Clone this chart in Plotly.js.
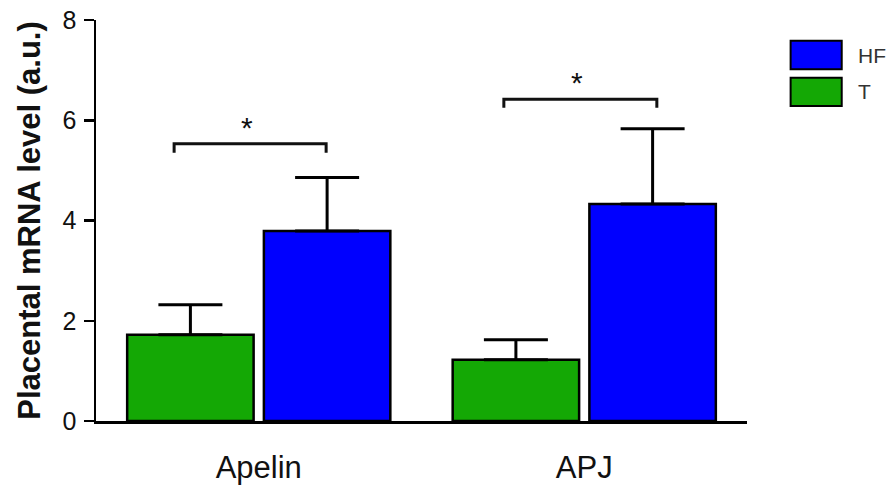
<!DOCTYPE html>
<html>
<head>
<meta charset="utf-8">
<script src="https://cdn.plot.ly/plotly-3.0.1.min.js"></script>
<style>html,body{margin:0;padding:0;background:#fff;}#chart{width:893px;height:485px;}</style>
</head>
<body>
<div id="chart"></div>
<script>
// ---- data ----
const categories = ["Apelin", "APJ"];
const seriesNames = ["T", "HF"];
const tValues = [1.72, 1.22];
const tErrors = [0.60, 0.40];
const hfValues = [3.79, 4.33];
const hfErrors = [1.07, 1.50];
const yTickVals = [0, 2, 4, 6, 8];
// significance brackets: [left, right] in category units, bracket height, drop
const bracketLeft = [-0.26, -0.247];
const bracketRight = [0.207, 0.223];
const bracketY = [5.53, 6.42];
const bracketDrop = [0.18, 0.17];
const sigLabels = ["*", "*"];

const green = "#14A805";
const blue = "#0000FF";

const traces = [
  {
    type: "bar", name: seriesNames[0], x: categories, y: tValues,
    marker: {color: green, line: {color: "#000", width: 2.5}},
    error_y: {type: "data", array: tErrors, arrayminus: tValues.map(() => 0), symmetric: false,
              color: "#000", thickness: 3, width: 32},
    showlegend: false
  },
  {
    type: "bar", name: seriesNames[1], x: categories, y: hfValues,
    marker: {color: blue, line: {color: "#000", width: 2.5}},
    error_y: {type: "data", array: hfErrors, arrayminus: hfValues.map(() => 0), symmetric: false,
              color: "#000", thickness: 3, width: 32},
    showlegend: false
  }
];

const shapes = [];
const annotations = [];
categories.forEach((c, i) => {
  const x0 = i + bracketLeft[i], x1 = i + bracketRight[i];
  shapes.push({
    type: "path", xref: "x", yref: "y",
    path: `M ${x0} ${bracketY[i] - bracketDrop[i]} L ${x0} ${bracketY[i]} L ${x1} ${bracketY[i]} L ${x1} ${bracketY[i] - bracketDrop[i]}`,
    line: {color: "#111", width: 3}
  });
  annotations.push({
    xref: "x", yref: "y", x: i + (bracketLeft[i] + bracketRight[i]) / 2 - 0.01, y: bracketY[i] - 0.04,
    yanchor: "bottom", text: sigLabels[i], showarrow: false,
    font: {family: "Liberation Sans, Arial, sans-serif", size: 30, color: "#111"}
  });
});

// legend drawn with shapes (large swatches)
const legendItems = [
  {name: seriesNames[1], color: blue, y0: 0.877, y1: 0.948},
  {name: seriesNames[0], color: green, y0: 0.7855, y1: 0.856}
];
legendItems.forEach(it => {
  shapes.push({type: "rect", xref: "paper", yref: "paper", x0: 1.067, x1: 1.1455, y0: it.y0, y1: it.y1,
               fillcolor: it.color, line: {color: "#000", width: 2}});
  annotations.push({xref: "paper", yref: "paper", x: 1.168, y: (it.y0 + it.y1) / 2, xanchor: "left", yanchor: "middle",
                    text: it.name, showarrow: false,
                    font: {family: "Liberation Sans, Arial, sans-serif", size: 21, color: "#333"}});
});

const layout = {
  width: 893, height: 485,
  margin: {l: 96, r: 146, t: 20, b: 64},
  paper_bgcolor: "#fff", plot_bgcolor: "#fff",
  barmode: "group", bargap: 0.16, bargroupgap: 0.075,
  showlegend: false,
  font: {family: "Liberation Sans, Arial, sans-serif", color: "#111"},
  xaxis: {
    type: "category", range: [-0.5, 1.5], showgrid: false, zeroline: false,
    showline: true, linecolor: "#000", linewidth: 2.5, ticks: "",
    tickfont: {size: 31, color: "#111"}, ticklabelstandoff: 17, automargin: false
  },
  yaxis: {
    range: [0, 8], tickvals: yTickVals, showgrid: false, zeroline: false,
    showline: true, linecolor: "#000", linewidth: 2.5, ticks: "outside", ticklen: 10, tickwidth: 2.5, tickcolor: "#000",
    tickfont: {size: 25, color: "#111"}, ticklabelstandoff: 2,
    title: {text: "<b>Placental mRNA level (a.u.)</b>", font: {size: 31, color: "#111"}, standoff: 13},
    automargin: false
  },
  shapes: shapes,
  annotations: annotations
};

Plotly.newPlot("chart", traces, layout, {displayModeBar: false, staticPlot: true});
</script>
</body>
</html>
